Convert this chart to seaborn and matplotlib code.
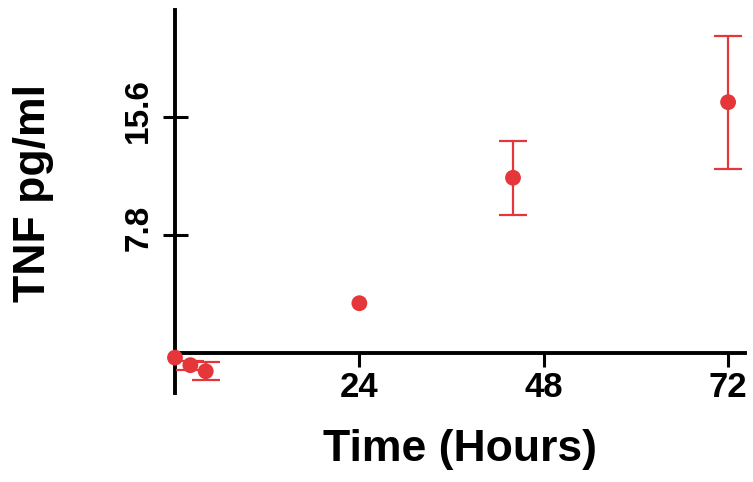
import matplotlib
matplotlib.use("Agg")
import matplotlib.pyplot as plt
import matplotlib.transforms as mtransforms
import seaborn as sns
import pandas as pd

# Data
hours = [0, 2, 4, 24, 44, 72]
tnf = [-0.3, -0.8, -1.2, 3.3, 11.6, 16.6]
tnf_err = [0.0, 0.3, 0.6, 0.0, 2.45, 4.4]
x_ticks = [24, 48, 72]
y_ticks = [7.8, 15.6]
y_tick_labels = ["7.8", "15.6"]

df = pd.DataFrame({"Hours": hours, "TNF": tnf, "err": tnf_err})
df_err = df[df["err"] > 0]

sns.set_style("white")
plt.rcParams["font.family"] = ["Liberation Sans", "DejaVu Sans"]
plt.rcParams["text.color"] = "black"
plt.rcParams["axes.labelcolor"] = "black"
plt.rcParams["xtick.color"] = "black"
plt.rcParams["ytick.color"] = "black"

red = "#E5373A"

fig = plt.figure(figsize=(7.53, 4.82), dpi=100)
ax = fig.add_axes([175 / 753, 1 - 393 / 482, (745 - 175) / 753, (393 - 10) / 482])

ax.errorbar(df_err["Hours"], df_err["TNF"], yerr=df_err["err"], fmt="none",
            ecolor=red, elinewidth=1.6, capsize=10, capthick=1.6,
            clip_on=False, zorder=3)
sns.scatterplot(data=df, x="Hours", y="TNF", ax=ax, color=red, s=130,
                edgecolor="none", clip_on=False, zorder=4, legend=False)

ax.set_xlim(0, 74.2)
ax.set_ylim(-2.64, 22.7)

for side in ["top", "right"]:
    ax.spines[side].set_visible(False)
ax.spines["bottom"].set_position(("data", 0))
ax.spines["bottom"].set_linewidth(2.8)
ax.spines["left"].set_linewidth(2.8)
ax.spines["bottom"].set_color("black")
ax.spines["left"].set_color("black")

ax.set_xticks(x_ticks)
ax.set_xticklabels([str(t) for t in x_ticks], fontsize=25, fontweight="bold")
ax.set_yticks(y_ticks)
ax.set_yticklabels(y_tick_labels, fontsize=24, fontweight="bold", rotation=90,
                   va="center")

ax.tick_params(axis="x", direction="out", length=10, width=2.2, pad=3,
               bottom=True, color="black", labelcolor="black")
ax.tick_params(axis="y", direction="inout", length=18, width=2.2, pad=6,
               left=True, color="black", labelcolor="black")

# nudge y tick labels slightly upward as in the reference
offset = mtransforms.ScaledTranslation(0, 5 / 72, fig.dpi_scale_trans)
for lab in ax.get_yticklabels():
    lab.set_transform(lab.get_transform() + offset)

ax.set_xlabel("Time (Hours)", fontsize=32, fontweight="bold", color="black")
ax.set_ylabel("TNF pg/ml", fontsize=32, fontweight="bold", color="black")
ax.xaxis.set_label_coords(0.5, -0.095)
ax.yaxis.set_label_coords(-0.212, 0.522)

fig.savefig("out.png", dpi=100, facecolor="white")
